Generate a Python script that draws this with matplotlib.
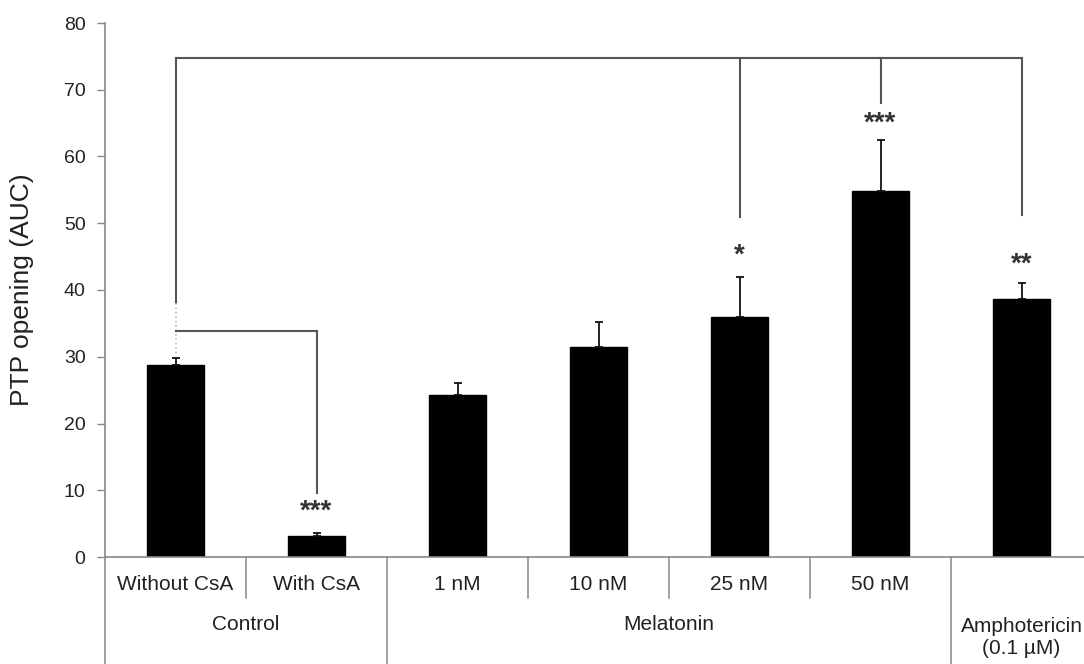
import numpy as np
import matplotlib.pyplot as plt

plt.rcParams['font.family'] = ['Liberation Sans', 'DejaVu Sans']

# data
labels = ['Without CsA', 'With CsA', '1 nM', '10 nM', '25 nM', '50 nM', '']
values = [28.7, 3.2, 24.3, 31.5, 35.9, 54.9, 38.7]
errors = [1.1, 0.4, 1.8, 3.7, 6.0, 7.6, 2.4]
groups = ['Control', 'Melatonin', 'Amphotericin\n(0.1 µM)']
group_centers = [0.5, 3.5, 6.0]
stars = {1: '***', 4: '*', 5: '***', 6: '**'}
star_y = {1: 6.8, 4: 45.2, 5: 65.0, 6: 43.8}

W, H = 1084, 664
fig = plt.figure(figsize=(W / 100, H / 100), dpi=100)
x0, x1, y0, y1 = 105, 1092, 557, 23   # axes box in pixels
ax = fig.add_axes([x0 / W, 1 - y0 / H, (x1 - x0) / W, (y0 - y1) / H])

x = np.arange(len(values))
ax.bar(x, values, width=0.4, color='black', edgecolor='black', zorder=2)
ax.errorbar(x, values, yerr=[np.zeros(len(errors)), errors], fmt='none',
            ecolor='#111111', elinewidth=1.3, capsize=3, capthick=1.3, zorder=3)

ax.set_xlim(-0.5, 6.5)
ax.set_ylim(0, 80)
ax.set_yticks(np.arange(0, 81, 10))
ax.tick_params(axis='y', length=6, width=1, color='#888888', labelsize=14,
               labelcolor='#222222', pad=8)
ax.set_xticks([])
for s in ['top', 'right']:
    ax.spines[s].set_visible(False)
for s in ['left', 'bottom']:
    ax.spines[s].set_color('#888888')
    ax.spines[s].set_linewidth(1.2)

ax.set_ylabel('PTP opening (AUC)', fontsize=19, color='#222222')
ax.yaxis.set_label_coords(-(x0 - 34) / (x1 - x0), 0.5)

# category table under the axis
def frac(py):
    return (y0 - py) / (y0 - y1)

tr = ax.get_xaxis_transform()
for d in [0.5, 2.5, 3.5, 4.5]:
    ax.plot([d, d], [0, frac(598)], transform=tr, clip_on=False,
            color='#888888', lw=1.1)
for d in [-0.5, 1.5, 5.5]:
    ax.plot([d, d], [0, frac(664)], transform=tr, clip_on=False,
            color='#888888', lw=1.1)
for i, lab in enumerate(labels):
    ax.text(i, frac(585), lab, transform=tr, ha='center', va='center',
            fontsize=15, color='#222222')
for c, g in zip(group_centers, groups):
    py = 637 if '\n' in g else 625
    ax.text(c, frac(py), g, transform=tr, ha='center', va='center',
            fontsize=15, color='#222222', linespacing=1.2)

# significance brackets
bc = '#555555'
top = 74.8
ax.plot([0, 6], [top, top], color=bc, lw=1.5)
ax.plot([0, 0], [top, 38.0], color=bc, lw=1.5)
ax.plot([4, 4], [top, 51.0], color=bc, lw=1.5)
ax.plot([5, 5], [top, 68.0], color=bc, lw=1.5)
ax.plot([6, 6], [top, 51.3], color=bc, lw=1.5)
ax.plot([0, 0], [38.0, 30.3], color='#bbbbbb', lw=1.2, ls=':')
ax.plot([0, 1], [33.9, 33.9], color=bc, lw=1.5)
ax.plot([1, 1], [33.9, 9.6], color=bc, lw=1.5)

for i, s in stars.items():
    ax.text(i, star_y[i], s, ha='center', va='center', fontsize=20,
            color='#333333', fontweight='bold')

fig.savefig('out.png', dpi=100)
